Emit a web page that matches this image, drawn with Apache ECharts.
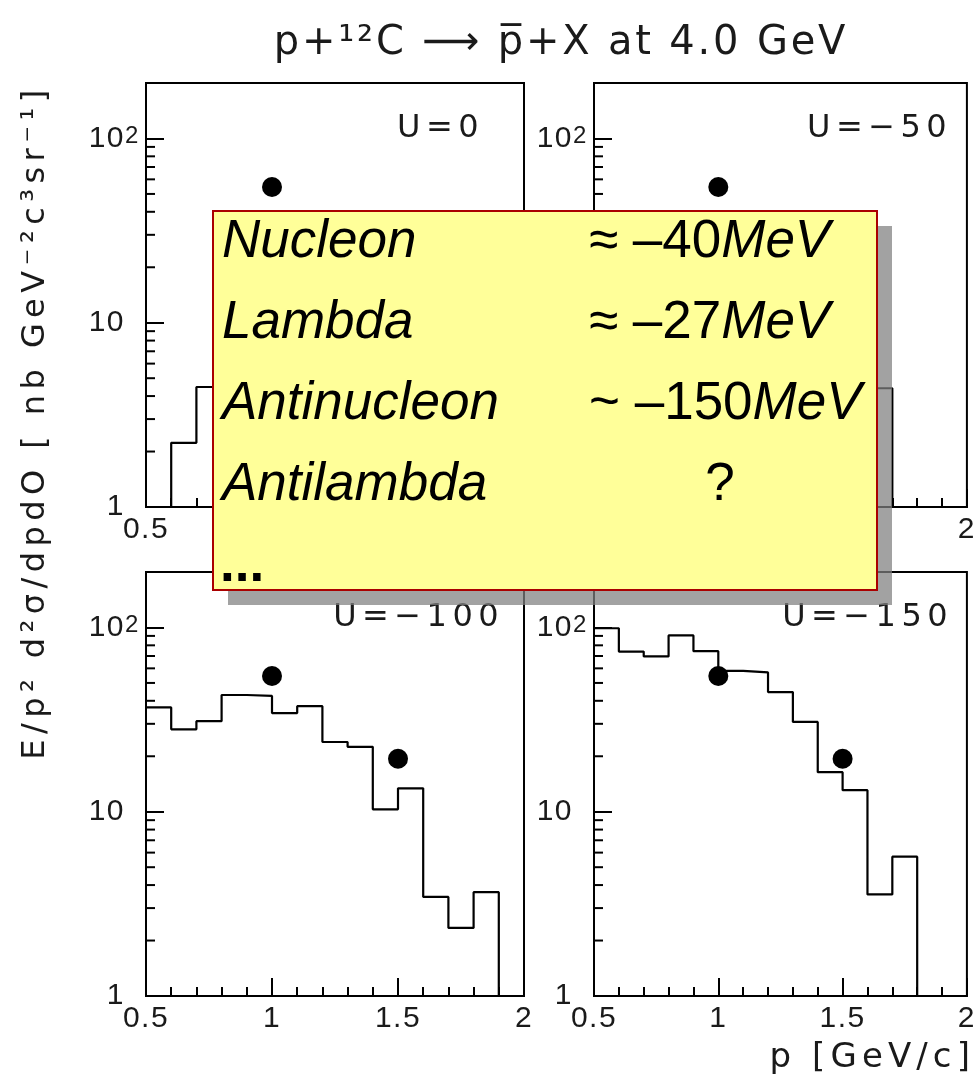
<!DOCTYPE html>
<html>
<head>
<meta charset="utf-8">
<title>p+12C → pbar+X at 4.0 GeV</title>
<script src="https://cdn.jsdelivr.net/npm/echarts@6/dist/echarts.min.js"></script>
<style>
  html, body { margin: 0; padding: 0; background: #fff; }
  #chart { width: 979px; height: 1088px; }
</style>
</head>
<body>
<div id="chart"></div>
<script>
// Open, ROOT-like tracking for the axis texts (em fraction per font size);
// the canvas measures and draws them with the same spacing, so alignment holds.
// Sizes not listed (the annotation box, 53px) keep normal spacing.
const TRACKING_EM = { 24: 0.05, 30: 0.05, 32: 0.17, 34: 0.15, 40: 0.07 };
(function () {
  const proto = window.CanvasRenderingContext2D && CanvasRenderingContext2D.prototype;
  if (!proto || !('letterSpacing' in proto)) return;
  const track = function (ctx) {
    const m = /([\d.]+)px/.exec(ctx.font || '');
    let sp = 0;
    if (m) {
      const size = parseFloat(m[1]);
      sp = size * (TRACKING_EM[Math.round(size)] || 0);
    }
    ctx.letterSpacing = sp.toFixed(2) + 'px';
  };
  ['fillText', 'strokeText', 'measureText'].forEach(function (name) {
    const orig = proto[name];
    proto[name] = function () { track(this); return orig.apply(this, arguments); };
  });
})();

// ---- data ---------------------------------------------------------------
// lower edges of the momentum bins [GeV/c]; last bin closes at P_HIGH
const P_LOW  = [0.5, 0.6, 0.7, 0.8, 0.9, 1.0, 1.1, 1.2, 1.3, 1.4, 1.5, 1.6, 1.7, 1.8, 1.9];
const P_HIGH = 2.0;

// simulated invariant cross sections per bin for each antiproton potential U [MeV]
const SIM_U0   = [0, 2.23, 4.48, 4.1, 4.6, 3.7, 3.9, 3.0, 2.6, 2.0, 1.7, 1.35, 0, 0, 0];
const SIM_U50  = [9.5, 8.2, 8.8, 10.5, 9.8, 8.6, 8.9, 7.2, 6.4, 5.1, 5.0, 4.41, 0, 0, 0];
const SIM_U100 = [36.8, 28.0, 31.0, 43.0, 42.5, 34.3, 37.4, 23.9, 22.5, 10.3, 13.4, 3.45, 2.34, 3.66, 0];
const SIM_U150 = [99.0, 74.0, 69.6, 90.5, 74.4, 58.2, 57.0, 44.6, 30.7, 16.4, 13.1, 3.56, 5.7, 0, 0];

const U_LABELS = ['U=0', 'U=\u221250', 'U=\u2212100', 'U=\u2212150'];

// measured points
const EXP_P = [1.0, 1.5];
const EXP_Y = [54.5, 19.4];

// axis ranges and log minor ticks
const X_MIN = 0.5, X_MAX = 2.0, X_STEP = 0.5;
const Y_MIN = 1, Y_MAX = 200;
const Y_MINOR_TICKS = [2, 3, 4, 5, 6, 7, 8, 9, 20, 30, 40, 50, 60, 70, 80, 90];

// potentials quoted in the box
const SPECIES   = ['Nucleon', 'Lambda', 'Antinucleon', 'Antilambda'];
const POT_SIGN  = ['\u2248', '\u2248', '~', ''];
const POT_VALUE = ['\u201340', '\u201327', '\u2013150', '?'];

// ---- layout -------------------------------------------------------------
const SIMS = [SIM_U0, SIM_U50, SIM_U100, SIM_U150];
// labelRight: right end of the U label, measured from the panel's right edge
const PANELS = [
  { left: 146, top: 83, labelRight: 40 }, { left: 594, top: 83, labelRight: 20 },
  { left: 146, top: 572, labelRight: 20 }, { left: 594, top: 572, labelRight: 19 }
];
const PW = 378, PH = 424;
const ROOT_FONT = 'DejaVu Sans';
const TICK_FONT = 'Liberation Sans';
const BOX_FONT = 'Liberation Sans';
const INK = '#1a1a1a';

function stepPoints(vals) {
  const pts = P_LOW.map(function (x, i) { return [x, vals[i] > 0 ? vals[i] : Y_MIN]; });
  pts.push([P_HIGH, pts[pts.length - 1][1]]);
  return pts;
}

function yLabel(v) {
  const l = Math.log10(v);
  const e = Math.round(l);
  if (Math.abs(l - e) > 1e-6) return '';
  if (e === 0) return '1';
  if (e === 1) return '10';
  if (e === 2) return '{n|10}{s|2}';
  return '';
}

const blackLine = { color: '#000', width: 2 };

const grid = PANELS.map(function (p) {
  return { left: p.left, top: p.top, width: PW, height: PH, show: true,
           borderColor: '#000', borderWidth: 2, backgroundColor: '#fff' };
});

const xAxis = PANELS.map(function (p, i) {
  return {
    type: 'value', gridIndex: i, min: X_MIN, max: X_MAX, interval: X_STEP,
    axisLine: { show: true, onZero: false, lineStyle: blackLine },
    axisTick: { show: true, inside: true, length: 18, lineStyle: blackLine },
    minorTick: { show: true, splitNumber: 5, length: 9, lineStyle: blackLine },
    splitLine: { show: false }, minorSplitLine: { show: false },
    axisLabel: { color: INK, fontFamily: TICK_FONT, fontSize: 30, margin: 7 }
  };
});

const yAxis = PANELS.map(function (p, i) {
  return {
    type: 'log', logBase: 10, gridIndex: i, min: Y_MIN, max: Y_MAX,
    axisLine: { show: true, onZero: false, lineStyle: blackLine },
    axisTick: { show: true, inside: true, length: 18, lineStyle: blackLine },
    minorTick: { show: false },
    splitLine: { show: false },
    axisLabel: {
      color: INK, fontFamily: TICK_FONT, fontSize: 30, margin: 21,
      showMaxLabel: false, formatter: yLabel,
      rich: {
        n: { color: INK, fontFamily: TICK_FONT, fontSize: 30, lineHeight: 30, align: 'left' },
        s: { color: INK, fontFamily: TICK_FONT, fontSize: 24, lineHeight: 16,
             verticalAlign: 'top', align: 'left', width: 0 }
      }
    }
  };
});

const series = [];
PANELS.forEach(function (p, i) {
  series.push({
    type: 'line', xAxisIndex: i, yAxisIndex: i, step: 'end',
    data: stepPoints(SIMS[i]), showSymbol: false, symbol: 'none',
    lineStyle: { color: '#000', width: 2.2 }, z: 3, silent: true
  });
  series.push({
    type: 'custom', xAxisIndex: i, yAxisIndex: i, silent: true, z: 3,
    encode: { x: 0, y: 1 },
    data: Y_MINOR_TICKS.map(function (v) { return [X_MIN, v]; }),
    renderItem: function (params, api) {
      const c = api.coord([api.value(0), api.value(1)]);
      return { type: 'line', shape: { x1: c[0], y1: c[1], x2: c[0] + 9, y2: c[1] },
               style: { stroke: '#000', lineWidth: 2 } };
    }
  });
  series.push({
    type: 'scatter', xAxisIndex: i, yAxisIndex: i, symbol: 'circle', symbolSize: 20,
    data: EXP_P.map(function (x, k) { return [x, EXP_Y[k]]; }),
    itemStyle: { color: '#000', opacity: 1 }, z: 4, silent: true
  });
});

// ---- texts and the annotation box ----------------------------------------
const graphics = [];
graphics.push({
  type: 'text', x: 561, y: 44, z: 50,
  style: { text: 'p+\u00b9\u00b2C \u27f6 p\u0305+X at 4.0 GeV', fontFamily: ROOT_FONT,
           fontSize: 40, fill: INK, align: 'center', verticalAlign: 'middle' }
});
graphics.push({
  type: 'text', x: 36, y: 422, rotation: Math.PI / 2, z: 50,
  style: { text: 'E/p\u00b2 d\u00b2\u03c3/dpdO [ nb GeV\u207b\u00b2c\u00b3sr\u207b\u00b9]',
           fontFamily: ROOT_FONT, fontSize: 32, fill: INK, align: 'center', verticalAlign: 'middle' }
});
graphics.push({
  type: 'text', x: 975, y: 1058, z: 50,
  style: { text: 'p [GeV/c]', fontFamily: ROOT_FONT, fontSize: 34, fill: INK,
           align: 'right', verticalAlign: 'middle' }
});
PANELS.forEach(function (p, i) {
  graphics.push({
    type: 'text', x: p.left + PW - p.labelRight, y: p.top + 46, z: 50,
    style: { text: U_LABELS[i], fontFamily: ROOT_FONT, fontSize: 32, fill: INK,
             align: 'right', verticalAlign: 'middle' }
  });
});

const BOX = { x: 213, y: 211, w: 664, h: 379 };
graphics.push({
  type: 'rect', z: 100,
  shape: { x: BOX.x + 15, y: BOX.y + 15, width: BOX.w, height: BOX.h },
  style: { fill: 'rgba(128,128,128,0.73)' }
});
graphics.push({
  type: 'rect', z: 101,
  shape: { x: BOX.x, y: BOX.y, width: BOX.w, height: BOX.h },
  style: { fill: '#ffff99', stroke: '#aa0000', lineWidth: 2 }
});
const ROW_BASE = [259, 340, 421, 502];
const BOX_SIZE = 53;
SPECIES.forEach(function (name, r) {
  const y = ROW_BASE[r] - 17;
  graphics.push({
    type: 'text', x: 222, y: y, z: 102,
    style: { text: name, fontFamily: BOX_FONT, fontStyle: 'italic', fontSize: BOX_SIZE,
             fill: '#000', align: 'left', verticalAlign: 'middle' }
  });
  if (POT_VALUE[r] === '?') {
    graphics.push({
      type: 'text', x: 720, y: y, z: 102,
      style: { text: '?', fontFamily: BOX_FONT, fontSize: BOX_SIZE, fill: '#000',
               align: 'center', verticalAlign: 'middle' }
    });
  } else {
    graphics.push({
      type: 'text', x: 589, y: y, z: 102,
      style: {
        text: '{u|' + POT_SIGN[r] + ' ' + POT_VALUE[r] + '}{i|MeV}',
        align: 'left', verticalAlign: 'middle',
        rich: {
          u: { fontFamily: BOX_FONT, fontSize: BOX_SIZE, fill: '#000', lineHeight: 60 },
          i: { fontFamily: BOX_FONT, fontSize: BOX_SIZE, fontStyle: 'italic', fill: '#000', lineHeight: 60 }
        }
      }
    });
  }
});
graphics.push({
  type: 'text', x: 220, y: 583 - 17, z: 102,
  style: { text: '...', fontFamily: BOX_FONT, fontWeight: 'bold', fontSize: BOX_SIZE,
           fill: '#000', align: 'left', verticalAlign: 'middle' }
});

const chart = echarts.init(document.getElementById('chart'), null, { renderer: 'canvas' });
chart.setOption({
  backgroundColor: '#fff',
  animation: false,
  grid: grid,
  xAxis: xAxis,
  yAxis: yAxis,
  series: series,
  graphic: { elements: graphics }
});
</script>
</body>
</html>
